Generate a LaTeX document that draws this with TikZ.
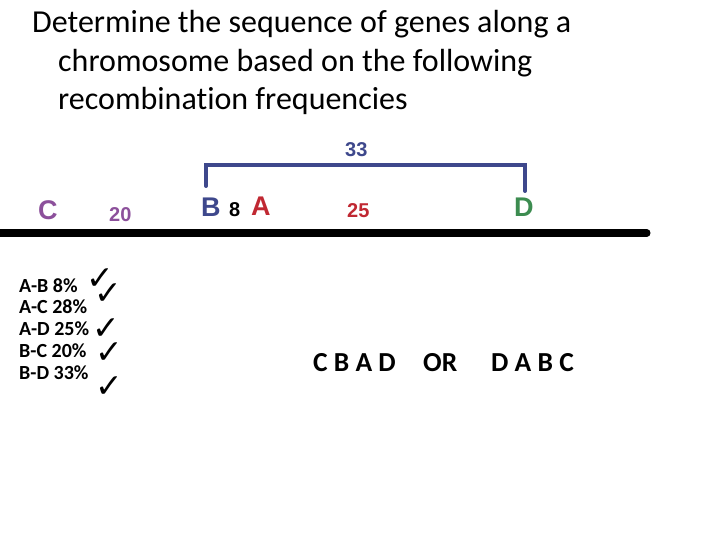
\documentclass[tikz,border=0pt]{standalone}
\usepackage{fontspec}
\setmainfont{Carlito}[Ligatures=NoCommon]
\newfontfamily\genefont{Liberation Sans}
\newfontfamily\tickfont{DejaVu Sans}
\usetikzlibrary{positioning, calc}

\definecolor{geneC}{RGB}{140,80,155}
\definecolor{geneB}{RGB}{62,72,140}
\definecolor{geneA}{RGB}{192,40,50}
\definecolor{geneD}{RGB}{60,140,80}

\begin{document}
\begin{tikzpicture}[x=1pt, y=-1pt,
  txt/.style={anchor=base west, inner sep=0pt},
  title/.style={txt, font=\fontsize{32}{38}\selectfont},
  gene/.style={txt, font=\genefont\bfseries\fontsize{27}{32}\selectfont},
  dist/.style={txt, font=\genefont\bfseries\fontsize{20}{24}\selectfont},
  pair/.style={txt, font=\bfseries\fontsize{20}{24}\selectfont},
  tick/.style={inner sep=0pt, font=\tickfont\fontsize{33}{36}\selectfont},
  order/.style={txt, font=\bfseries\fontsize{27.5}{32}\selectfont},
  bracket/.style={draw=geneB, line width=4pt, line cap=round}]
\useasboundingbox (0,0) rectangle (720,540);

\node[title] (title1) at (32,33) {Determine the sequence of genes along a};
\node[title] (title2) at (58,72) {chromosome based on the following};
\node[title] (title3) at (58,110) {recombination frequencies};

\node[gene, text=geneC] (C) at (38,220) {C};
\node[dist, text=geneC] (dCB) at (109,222) {20};
\node[gene, text=geneB] (B) at (201,216) {B};
\node[dist] (dBA) at (229,216) {8};
\node[gene, text=geneA] (A) at (251,215) {A};
\node[dist, text=geneA] (dAD) at (347,218) {25};
\node[gene, text=geneD] (D) at (514,217) {D};
\node[dist, text=geneB] (dBD) at (345,157) {33};

\coordinate (brL) at (206,186);
\coordinate (brR) at (525,191);
\draw[bracket] (brL) -- ++(0,-20.5) -| (brR);

\coordinate (chrL) at (-10,233);
\coordinate (chrR) at (647,233);
\draw[line width=7pt, line cap=round] (chrL) -- (chrR);

\node[pair] (AB) at (19,292) {A-B 8\%};
\node[pair] (AC) at (19,313) {A-C 28\%};
\node[pair] (AD) at (19,335) {A-D 25\%};
\node[pair] (BC) at (19,357) {B-C 20\%};
\node[pair] (BD) at (19,379) {B-D 33\%};

\node[tick] (tick1) at (100,279) {✓};
\node[tick] (tick2) at (108,294) {✓};
\node[tick] (tick3) at (106.5,329) {✓};
\node[tick] (tick4) at (109,353) {✓};
\node[tick] (tick5) at (109,387) {✓};

\node[order] (seq1) at (313,371) {C B A D};
\node[order] (or) at (423,371) {OR};
\node[order] (seq2) at (491,371) {D A B C};
\end{tikzpicture}
\end{document}
